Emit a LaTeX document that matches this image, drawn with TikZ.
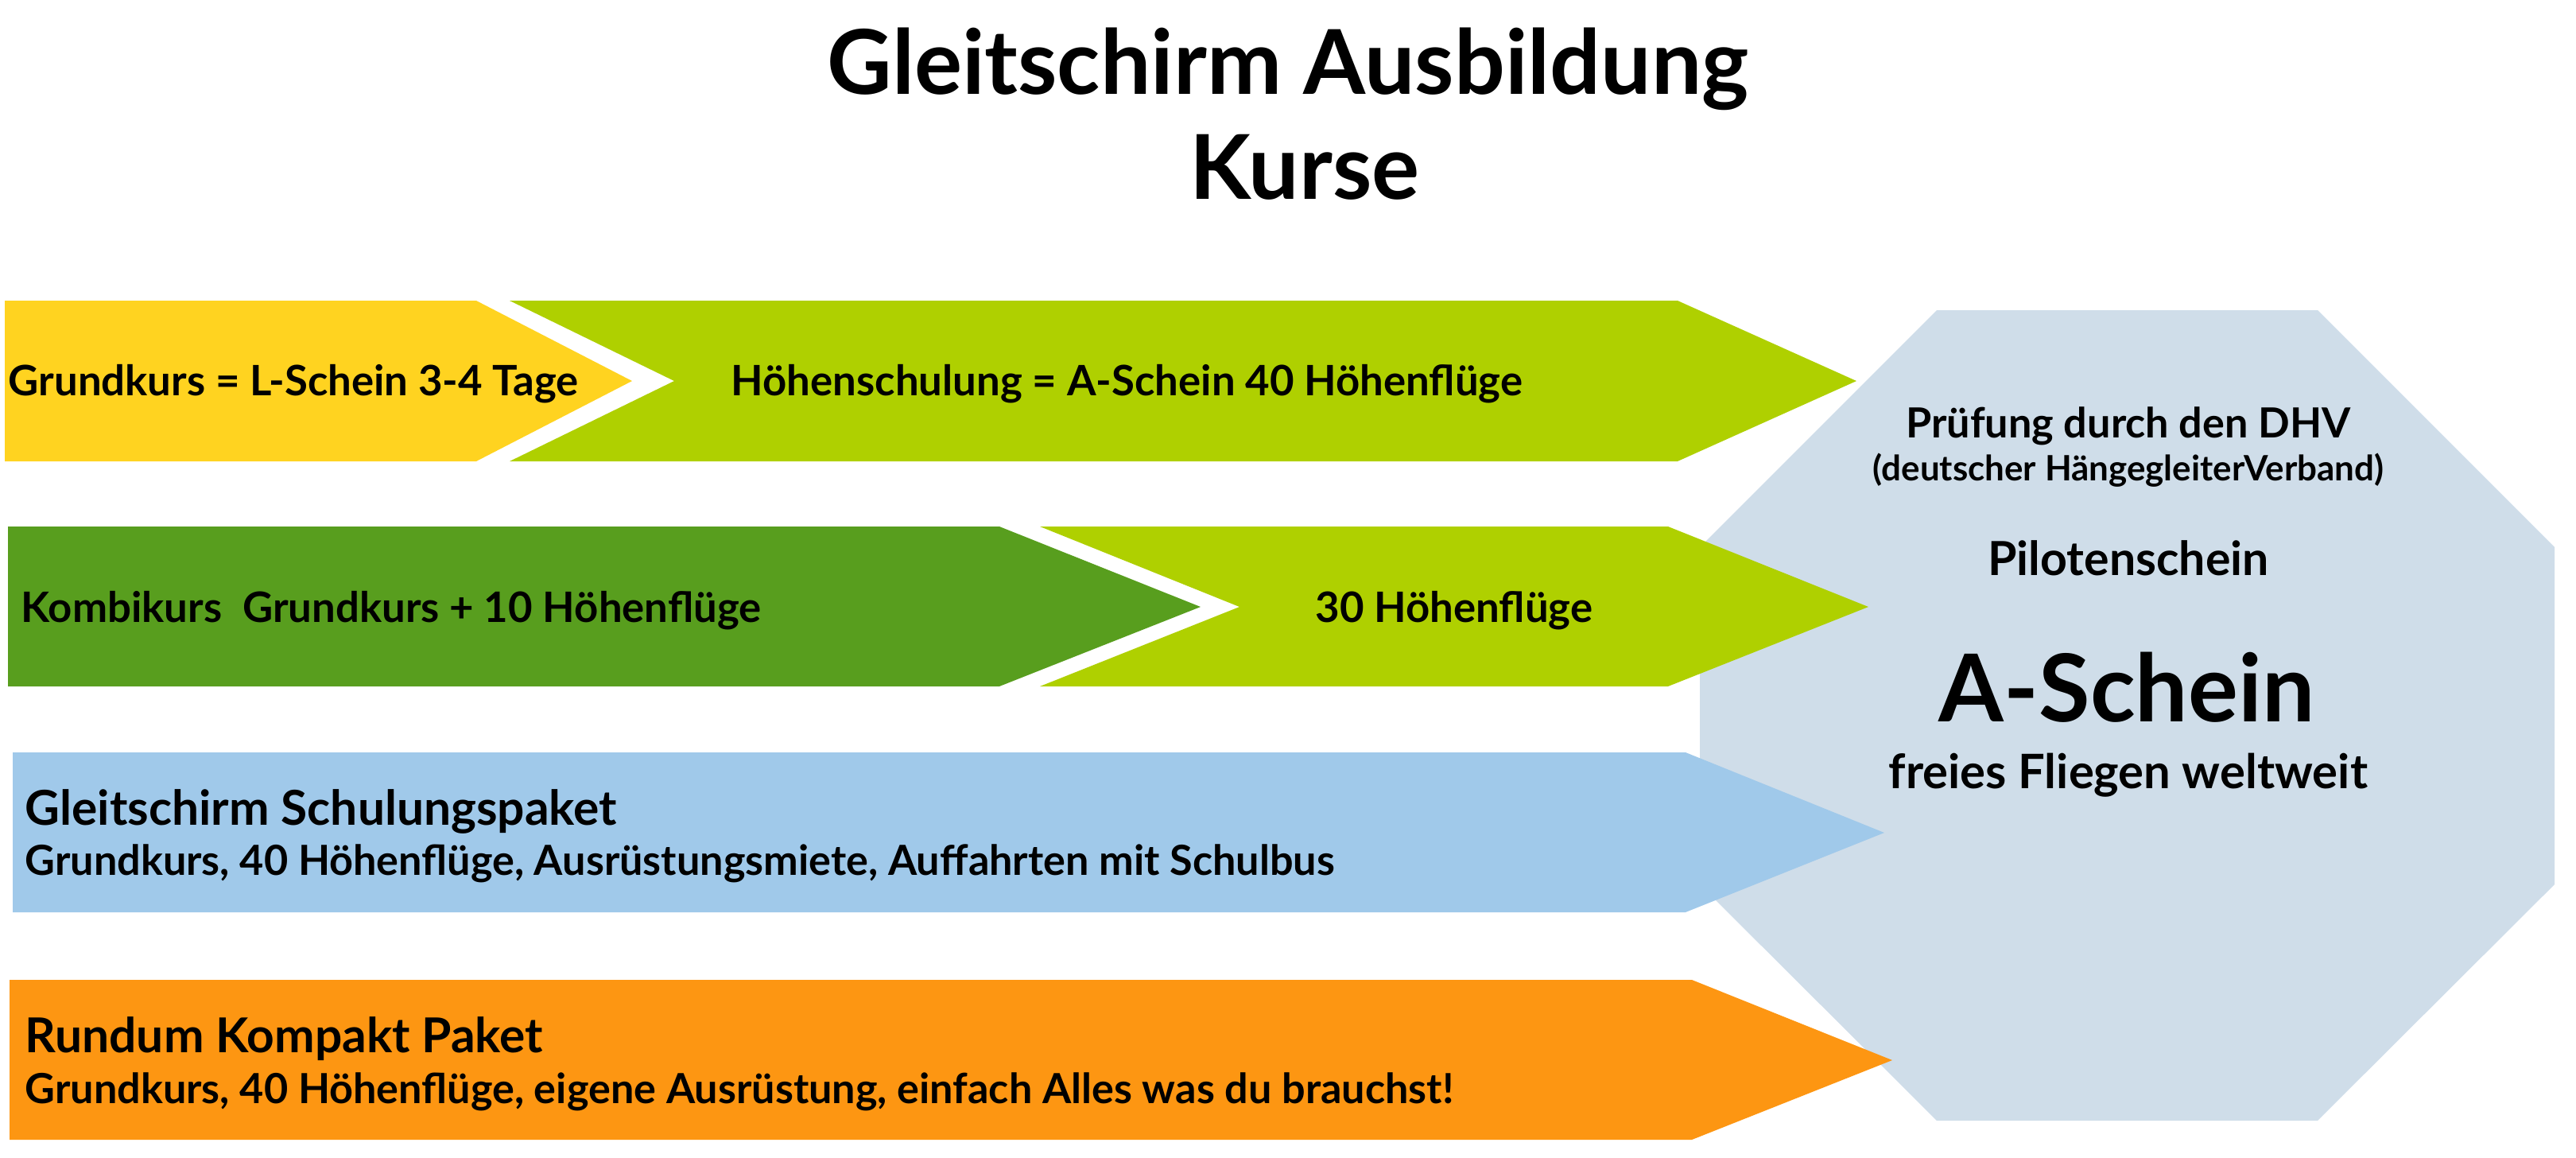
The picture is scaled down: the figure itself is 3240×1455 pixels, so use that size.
\documentclass[tikz,border=0pt]{standalone}
\usepackage{fontspec}
\setmainfont{Lato}

\definecolor{gelb}{RGB}{255,211,32}
\definecolor{hellgruen}{RGB}{175,208,0}
\definecolor{dunkelgruen}{RGB}{88,158,30}
\definecolor{hellblau}{RGB}{160,201,234}
\definecolor{kursorange}{RGB}{253,150,18}
\definecolor{pruefgrau}{RGB}{207,221,233}

\begin{document}
\begin{tikzpicture}[x=0.1mm, y=-0.1mm,
        txt/.style = {inner sep=0, font=\bfseries\fontsize{15}{18}\selectfont},
        head/.style = {inner sep=0, anchor=base, font=\bfseries\fontsize{32}{36}\selectfont}]
        \useasboundingbox (0,0) rectangle (3240,1455);

        % Pruefung (hinter den Pfeilen)
        \fill[pruefgrau] (2436,390) -- (2915,390) -- (3213,688) -- (3213,1112)
            -- (2915,1409) -- (2436,1409) -- (2138,1112) -- (2138,688) -- cycle;

        % Pfeile
        \fill[gelb] (6,378) -- (599,378) -- (795,479) -- (599,580) -- (6,580) -- cycle;
        \fill[hellgruen] (641,378) -- (2110,378) -- (2335,479) -- (2110,580) -- (641,580) -- (848,479) -- cycle;
        \fill[dunkelgruen] (10,662) -- (1257,662) -- (1510,763) -- (1257,863) -- (10,863) -- cycle;
        \fill[hellgruen] (1308,662) -- (2098,662) -- (2350,763) -- (2098,863) -- (1308,863) -- (1559,763) -- cycle;
        \fill[hellblau] (16,946) -- (2120,946) -- (2370,1047) -- (2120,1147) -- (16,1147) -- cycle;
        \fill[kursorange] (12,1232) -- (2128,1232) -- (2380,1333) -- (2128,1433) -- (12,1433) -- cycle;

        % Titel
        \node[head] (titel) at (1620,118) {Gleitschirm Ausbildung};
        \node[head] (kurse) at (1641,250) {Kurse};

        % Texte
        \node[txt, anchor=base west] (grund) at (10,497) {Grundkurs = L-Schein 3-4 Tage};
        \node[txt, anchor=base west] (hoehe) at (919,497) {Höhenschulung = A-Schein 40 Höhenflüge};
        \node[txt, anchor=base west] (kombi) at (26,782) {Kombikurs\ \ Grundkurs + 10 Höhenflüge};
        \node[txt, anchor=base] (dreissig) at (1829,782) {30 Höhenflüge};

        \node[txt, anchor=base west, font=\bfseries\fontsize{17.2}{20}\selectfont] (paket) at (31,1037) {Gleitschirm Schulungspaket};
        \node[txt, anchor=base west, font=\bfseries\fontsize{14.85}{17}\selectfont] (paketinfo) at (31,1100) {Grundkurs, 40 Höhenflüge, Ausrüstungsmiete, Auffahrten mit Schulbus};
        \node[txt, anchor=base west, font=\bfseries\fontsize{17.2}{20}\selectfont] (rundum) at (31,1323) {Rundum Kompakt Paket};
        \node[txt, anchor=base west, font=\bfseries\fontsize{14.85}{17}\selectfont] (rundinfo) at (31,1387) {Grundkurs, 40 Höhenflüge, eigene Ausrüstung, einfach Alles was du brauchst!};

        \node[txt, anchor=base, font=\bfseries\fontsize{14.85}{17}\selectfont] (dhv) at (2677,550) {Prüfung durch den DHV};
        \node[txt, anchor=base, font=\bfseries\fontsize{12.5}{15}\selectfont] (verband) at (2677,604) {(deutscher HängegleiterVerband)};
        \node[txt, anchor=base, font=\bfseries\fontsize{16.8}{19}\selectfont] (pilot) at (2677,723) {Pilotenschein};
        \node[txt, anchor=base, font=\bfseries\fontsize{33.5}{38}\selectfont] (aschein) at (2675,907) {A-Schein};
        \node[txt, anchor=base, font=\bfseries\fontsize{17}{20}\selectfont] (frei) at (2677,991) {freies Fliegen weltweit};
    \end{tikzpicture}
\end{document}
